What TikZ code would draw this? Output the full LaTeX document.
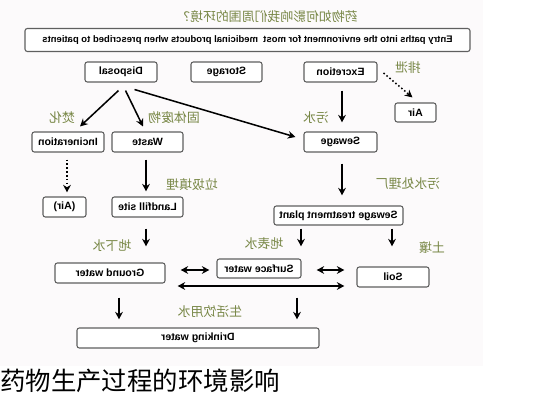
\documentclass[tikz,border=0pt]{standalone}
\usepackage{fontspec}
\setmainfont{Liberation Sans}
\newfontfamily\cjk{Noto Sans CJK SC}
\usepackage{graphicx}
\usetikzlibrary{arrows.meta, calc}
\definecolor{labelgreen}{RGB}{120,135,70}
\definecolor{boxgray}{RGB}{95,95,95}
\definecolor{bgtint}{RGB}{252,250,251}
\newcommand{\flip}[1]{\scalebox{-1}[1]{#1}}

\begin{document}
\begin{tikzpicture}[x=0.03cm, y=-0.03cm, >={Stealth[length=6.5pt, width=6.5pt]},
  box/.style={draw=boxgray, line width=0.9pt, rounded corners=2pt, fill=white, minimum height=0.6cm, inner sep=1pt, font=\fontsize{9}{10}\selectfont\bfseries},
  cnlabel/.style={text=labelgreen, font=\cjk\fontsize{11}{13}\selectfont, inner sep=0pt},
  flow/.style={->, line width=1.3pt},
  dflow/.style={->, line width=1.3pt, dotted}]
  \useasboundingbox (0,0) rectangle (533,400);
  \fill[bgtint] (0,0) rectangle (483,366);
  \node[cnlabel] (title) at (267.5,16.5) {\flip{药物如何影响我们周围的环境？}};
  \node[box, minimum width=13.35cm, minimum height=0.69cm, font=\fontsize{8.1}{10}\selectfont\bfseries] (entry) at (247.5,40) {\flip{Entry paths into the environment for most\ \ medicinal products when prescribed to patients}};
  \node[box, minimum width=2.16cm] (disposal) at (121,72) {\flip{Disposal}};
  \node[box, minimum width=2.13cm] (storage) at (226.5,72) {\flip{Storage}};
  \node[box, minimum width=2.19cm] (excretion) at (340.5,72) {\flip{Excretion}};
  \node[box, minimum width=1.23cm, minimum height=0.57cm] (air1) at (415.5,112.5) {\flip{Air}};
  \node[box, minimum width=2.16cm] (incin) at (68,142) {\flip{Incineration}};
  \node[box, minimum width=2.13cm] (waste) at (147.5,142) {\flip{Waste}};
  \node[box, minimum width=2.19cm] (sewage) at (340.5,142) {\flip{Sewage}};
  \node[box, minimum width=1.29cm] (air2) at (64.5,207) {\flip{(Air)}};
  \node[box, minimum width=2.13cm] (landfill) at (147.5,207) {\flip{Landfill site}};
  \node[box, minimum width=3.87cm, minimum height=0.57cm] (stp) at (338.5,215.5) {\flip{Sewage treatment plant}};
  \node[box, minimum width=3.3cm] (ground) at (110,273) {\flip{Ground water}};
  \node[box, minimum width=2.52cm, minimum height=0.57cm] (surface) at (259,268.5) {\flip{Surface water}};
  \node[box, minimum width=2.16cm] (soil) at (393,277) {\flip{Soil}};
  \node[box, minimum width=7.26cm] (drinking) at (198,338) {\flip{Drinking water}};
  \node[cnlabel] (lblexcr) at (408,68) {\flip{排泄}};
  \node[cnlabel] (lblburn) at (62,118) {\flip{焚化}};
  \node[cnlabel] (lblsolid) at (174,118) {\flip{固体废物}};
  \node[cnlabel] (lblsewage) at (316,118) {\flip{污水}};
  \node[cnlabel] (lblfill) at (192,185) {\flip{垃圾填埋}};
  \node[cnlabel] (lblplant) at (408,184) {\flip{污水处理厂}};
  \node[cnlabel] (lblground) at (112,246) {\flip{地下水}};
  \node[cnlabel] (lblsurface) at (264,244) {\flip{地表水}};
  \node[cnlabel] (lblsoil) at (432,248) {\flip{土壤}};
  \node[cnlabel] (lbldrink) at (210,312) {\flip{生活饮用水}};
  \draw[flow] ($(disposal.south)+(-2.5,8)$) -- ($(incin.north)+(12,-5)$);
  \draw[flow] ($(disposal.south)+(4.5,8)$) -- ($(waste.north)+(-4.5,-5)$);
  \draw[flow] ($(disposal.south)+(13.5,7)$) -- ($(sewage.west)+(-8,-5)$);
  \draw[flow] ($(excretion.south)+(1.5,8)$) -- ($(sewage.north)+(1.5,-9)$);
  \draw[dflow] ($(excretion.east)+(6,1)$) -- ($(air1.north)+(-3,-5)$);
  \draw[dflow] ($(incin.south)+(-1,7)$) -- ($(air2.north)+(2.5,-4)$);
  \draw[flow] ($(waste.south)+(-1.5,7)$) -- ($(landfill.north)+(-1.5,-5)$);
  \draw[flow] ($(sewage.south)+(1.5,11)$) -- ($(stp.north)+(3.5,-10)$);
  \draw[flow] ($(landfill.south)+(-1.5,11)$) -- ($(ground.north)+(36,-16)$);
  \draw[flow] ($(stp.south)+(-37.5,3)$) -- ($(surface.north)+(42,-12)$);
  \draw[flow] ($(stp.south)+(53.5,3)$) -- ($(soil.north)+(-1,-20)$);
  \draw[flow] ($(ground.south)+(9,14)$) -- ($(drinking.north)+(-79,-8)$);
  \draw[flow] ($(surface.south)+(38,19)$) -- ($(drinking.north)+(99,-8)$);
  \draw[<->, line width=1.3pt] ($(ground.east)+(15,-3)$) -- ($(surface.west)+(-7,1.5)$);
  \draw[<->, line width=1.3pt] ($(surface.east)+(15,1.5)$) -- ($(soil.west)+(-12,-7)$);
  \draw[<->, line width=1.3pt] ($(ground.east)+(12,13)$) -- ($(soil.west)+(-12,9)$);
  \node[anchor=west, inner sep=0pt, font=\cjk\fontsize{21.7}{24}\selectfont] (caption) at (0,381) {药物生产过程的环境影响};
\end{tikzpicture}
\end{document}
